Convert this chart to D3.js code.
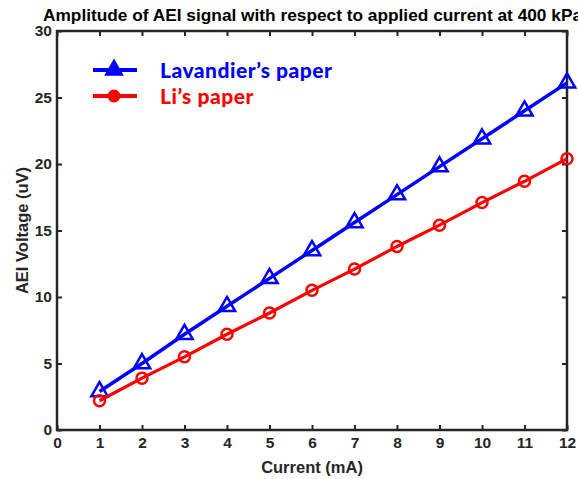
<!DOCTYPE html>
<html>
<head>
<meta charset="utf-8">
<script src="https://cdn.jsdelivr.net/npm/d3@7"></script>
<style>
  body { margin: 0; background: #fff; }
  svg text { font-family: "Liberation Sans", Arial, sans-serif; font-weight: bold; fill: #262626; }
</style>
</head>
<body>
<div id="chart-area"></div>
<script>
const currents = [1, 2, 3, 4, 5, 6, 7, 8, 9, 10, 11, 12];
const lavandier = [2.9, 5.0, 7.2, 9.3, 11.4, 13.5, 15.6, 17.7, 19.8, 21.9, 24.0, 26.1];
const li = [2.2, 3.9, 5.5, 7.2, 8.8, 10.5, 12.1, 13.8, 15.4, 17.1, 18.7, 20.4];
const xTicks = [0, 1, 2, 3, 4, 5, 6, 7, 8, 9, 10, 11, 12];
const yTicks = [0, 5, 10, 15, 20, 25, 30];
const seriesNames = ["Lavandier\u2019s paper", "Li\u2019s paper"];

const drawChart = () => {
  const chartSize = { width: 578, height: 479 };
  const margin = { left: 57, right: 11, top: 31, bottom: 49 };
  const width = chartSize.width - margin.left - margin.right;
  const height = chartSize.height - margin.top - margin.bottom;

  const svg = d3.select('#chart-area')
    .append('svg')
    .attr('width', chartSize.width)
    .attr('height', chartSize.height);

  const g = svg.append('g')
    .attr('transform', `translate(${margin.left},${margin.top})`);

  const x = d3.scaleLinear().domain([0, 12]).range([0, width]);
  const y = d3.scaleLinear().domain([0, 30]).range([height, 0]);

  const axisColor = '#262626';
  const styleAxis = sel => {
    sel.select('.domain').remove();
    sel.selectAll('line').attr('stroke', axisColor).attr('stroke-width', 2);
    sel.selectAll('text').attr('font-size', 15.5).style('fill', axisColor);
  };

  g.append('g').attr('transform', `translate(0,${height})`)
    .call(d3.axisBottom(x).tickValues(xTicks).tickSize(-5).tickPadding(7))
    .call(styleAxis);
  g.append('g')
    .call(d3.axisTop(x).tickValues(xTicks).tickSize(-5).tickFormat(''))
    .call(styleAxis);
  g.append('g')
    .call(d3.axisLeft(y).tickValues(yTicks).tickSize(-5).tickPadding(5))
    .call(styleAxis);
  g.append('g').attr('transform', `translate(${width},0)`)
    .call(d3.axisRight(y).tickValues(yTicks).tickSize(-5).tickFormat(''))
    .call(styleAxis);

  g.append('rect')
    .attr('width', width).attr('height', height)
    .attr('fill', 'none').attr('stroke', axisColor).attr('stroke-width', 2.5);

  const line = d3.line().x(d => x(d[0])).y(d => y(d[1]));
  const series = [
    { name: seriesNames[0], values: lavandier, color: '#0000ff', marker: d3.symbolTriangle, size: 115, width: 3.5 },
    { name: seriesNames[1], values: li, color: '#ff0000', marker: d3.symbolCircle, size: 95, width: 3.2 }
  ];

  series.forEach(s => {
    const pts = currents.map((c, i) => [c, s.values[i]]);
    g.append('path').datum(pts)
      .attr('d', line)
      .attr('fill', 'none')
      .attr('stroke', s.color)
      .attr('stroke-width', s.width);
    g.selectAll(null).data(pts).enter().append('path')
      .attr('d', d3.symbol().type(s.marker).size(s.size))
      .attr('transform', d => `translate(${x(d[0])},${y(d[1])})`)
      .attr('fill', 'none')
      .attr('stroke', s.color)
      .attr('stroke-width', 2.5);
  });

  // legend
  const legend = svg.append('g');
  series.forEach((s, i) => {
    const ly = 70 + i * 26;
    legend.append('line')
      .attr('x1', 93).attr('x2', 137).attr('y1', ly).attr('y2', ly)
      .attr('stroke', s.color).attr('stroke-width', 4);
    legend.append('path')
      .attr('d', d3.symbol().type(s.marker).size(s.size))
      .attr('transform', `translate(114,${ly})`)
      .attr('fill', s.color).attr('stroke', s.color).attr('stroke-width', 2);
    legend.append('text')
      .attr('x', 160).attr('y', ly + 8)
      .attr('font-size', 21)
      .style('font-family', 'Lato, sans-serif')
      .style('font-weight', 900)
      .style('letter-spacing', '0.5px')
      .style('fill', s.color)
      .text(s.name);
  });

  svg.append('text')
    .attr('x', 43).attr('y', 21)
    .attr('font-size', 17.3)
    .style('fill', '#000')
    .text('Amplitude of AEI signal with respect to applied current at 400 kPa');

  svg.append('text')
    .attr('x', margin.left + width / 2).attr('y', 473)
    .attr('text-anchor', 'middle')
    .attr('font-size', 16.5)
    .text('Current (mA)');

  svg.append('text')
    .attr('transform', 'rotate(-90)')
    .attr('x', -(margin.top + height / 2)).attr('y', 28)
    .attr('text-anchor', 'middle')
    .attr('font-size', 16.5)
    .text('AEI Voltage (uV)');
}

window.onload = drawChart;
</script>
</body>
</html>
